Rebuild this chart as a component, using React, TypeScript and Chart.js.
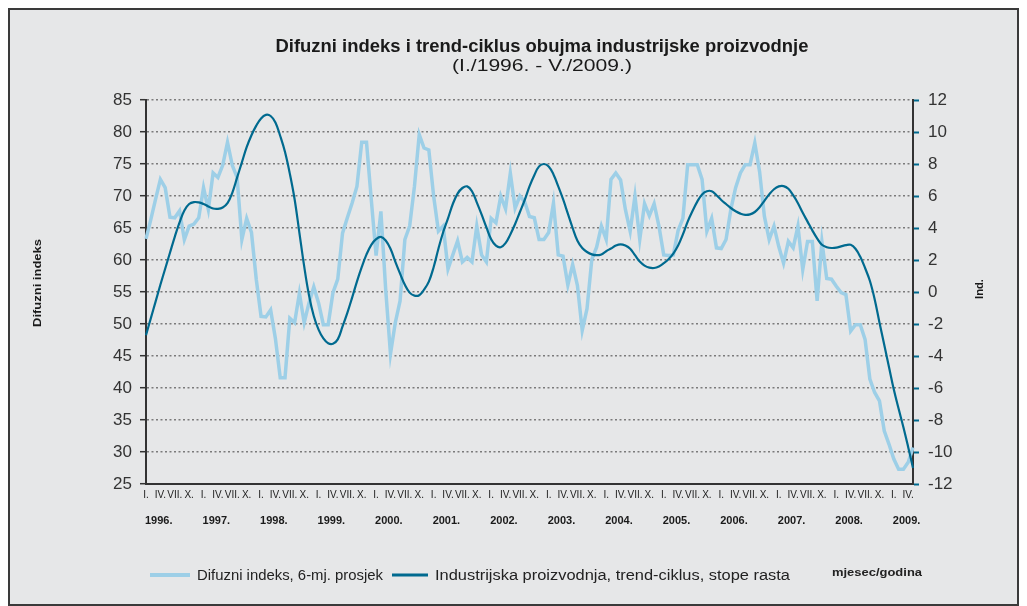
import React, { useEffect, useRef } from "react";
import { Chart, registerables } from "chart.js";

Chart.register(...registerables);

// ---------- data ----------
const years = [1996, 1997, 1998, 1999, 2000, 2001, 2002, 2003, 2004, 2005, 2006, 2007, 2008, 2009];
const romanMonths = ["I.", "II.", "III.", "IV.", "V.", "VI.", "VII.", "VIII.", "IX.", "X.", "XI.", "XII."];
const monthsInLastYear = 5; // I.-V. 2009

// Difuzni indeks, 6-mj. prosjek (left axis)
const diffusionIndex = [
  63.3, 66.3, 69.5, 72.6, 71.3, 66.7, 66.6, 67.7, 63.2, 65.3, 65.6, 66.6,
  71.3, 67.9, 73.6, 72.9, 74.8, 78.4, 74.8, 72.9, 63.2, 66.5, 64.3, 57.0,
  51.2, 51.1, 52.2, 47.7, 41.6, 41.6, 50.9, 50.2, 54.8, 50.2, 53.3, 55.8,
  53.3, 49.9, 49.9, 54.9, 57.0, 64.2, 66.6, 68.9, 71.5, 78.4, 78.4, 69.4,
  60.7, 67.6, 55.4, 45.3, 50.2, 53.6, 63.2, 65.3, 71.5, 79.6, 77.5, 77.2,
  70.0, 64.5, 65.3, 58.6, 60.8, 63.0, 59.7, 60.4, 59.7, 65.3, 60.8, 59.7,
  66.5, 65.8, 70.0, 68.0, 73.6, 68.1, 70.0, 69.1, 66.8, 66.6, 63.2, 63.2,
  64.3, 68.9, 60.8, 60.6, 56.1, 59.3, 56.0, 49.0, 52.4, 60.1, 62.0, 65.3,
  63.2, 72.6, 73.6, 72.5, 67.9, 64.5, 70.0, 63.2, 68.8, 66.9, 68.8, 65.3,
  60.8, 60.7, 60.8, 64.6, 66.5, 74.9, 74.9, 74.9, 72.6, 64.5, 66.5, 61.9,
  61.8, 63.2, 67.9, 71.3, 73.6, 74.9, 74.9, 78.3, 73.8, 66.8, 63.2, 65.3,
  62.1, 59.5, 62.9, 61.9, 65.3, 58.5, 62.9, 62.9, 53.6, 62.9, 57.1, 57.0,
  55.9, 54.9, 54.6, 48.9, 49.9, 49.9, 47.6, 41.4, 39.3, 38.0, 33.3, 31.2,
  28.9, 27.3, 27.3, 28.4, 30.7,
];

// Industrijska proizvodnja, trend-ciklus, stope rasta (right axis)
const industryTrend = [
  -2.7, -1.65, -0.6, 0.45, 1.45, 2.45, 3.45, 4.35, 5.1, 5.5, 5.62, 5.6,
  5.5, 5.35, 5.22, 5.2, 5.28, 5.55, 6.2, 7.15, 8.1, 9.05, 9.8, 10.4,
  10.85, 11.07, 11.0, 10.6, 9.75, 8.75, 7.4, 5.8, 3.7, 1.6, -0.2, -1.5,
  -2.35, -2.9, -3.2, -3.23, -2.96, -2.15, -1.3, -0.35, 0.65, 1.55, 2.35, 2.95,
  3.3, 3.44, 3.22, 2.7, 1.9, 1.15, 0.45, -0.04, -0.23, -0.2, 0.15, 0.65,
  1.55, 2.7, 3.75, 4.6, 5.5, 6.15, 6.5, 6.6, 6.3, 5.6, 4.85, 4.05,
  3.3, 2.9, 2.8, 3.05, 3.6, 4.25, 5.0, 5.75, 6.6, 7.3, 7.85, 8.0,
  7.85, 7.35, 6.6, 5.8, 4.9, 4.0, 3.2, 2.75, 2.5, 2.35, 2.3, 2.35,
  2.55, 2.72, 2.9, 2.98, 2.9, 2.7, 2.3, 1.9, 1.65, 1.52, 1.5, 1.6,
  1.8, 2.05, 2.4, 2.9, 3.6, 4.4, 5.06, 5.65, 6.1, 6.3, 6.3, 6.05,
  5.75, 5.5, 5.25, 5.05, 4.9, 4.82, 4.85, 5.0, 5.3, 5.7, 6.1, 6.42,
  6.6, 6.62, 6.45, 6.05, 5.55, 4.95, 4.4, 3.85, 3.35, 2.95, 2.8, 2.75,
  2.77, 2.85, 2.93, 2.95, 2.7, 2.2, 1.5, 0.7, -0.45, -1.9, -3.3, -4.7,
  -6.1, -7.3, -8.45, -9.7, -11.0,
];

const titleText = "Difuzni indeks i trend-ciklus obujma industrijske proizvodnje";
const subtitleText = "(I./1996. - V./2009.)";
const leftAxisTitle = "Difuzni indeks";
const rightAxisTitle = "Ind.";
const xAxisTitle = "mjesec/godina";
const lightLabel = "Difuzni indeks, 6-mj. prosjek";
const darkLabel = "Industrijska proizvodnja, trend-ciklus, stope rasta";

// categories built from the year / month lists
const categories: string[] = [];
years.forEach((y, yi) => {
  const n = yi === years.length - 1 ? monthsInLastYear : 12;
  for (let m = 0; m < n; m++) categories.push(`${romanMonths[m]}/${y}.`);
});

// ---------- style ----------
const LIGHT = "#9dcfe7";
const DARK = "#006a8f";
const FONT = '"Liberation Sans", Arial, sans-serif';
const NARROW = '"Liberation Sans Narrow", "Liberation Sans", Arial, sans-serif';

function fitText(ctx: CanvasRenderingContext2D, text: string, x: number, y: number, width: number, align: "left" | "center", rot = 0) {
  const w = ctx.measureText(text).width;
  const sx = width / w;
  ctx.save();
  ctx.translate(x, y);
  if (rot) ctx.rotate(rot);
  ctx.scale(sx, 1);
  ctx.textAlign = align;
  ctx.textBaseline = "middle";
  ctx.fillText(text, 0, 0);
  ctx.restore();
}

const decorPlugin = {
  id: "decor",
  afterDraw(chart: any) {
    const ctx: CanvasRenderingContext2D = chart.ctx;
    const xs = chart.scales.x;
    ctx.save();
    ctx.fillStyle = "#1a1a1a";
    // title
    ctx.font = `bold 18px ${NARROW}`;
    fitText(ctx, titleText, 532, 37, 533, "center");
    ctx.font = `16px ${NARROW}`;
    fitText(ctx, subtitleText, 532, 57, 180, "center");
    // axis titles
    ctx.font = `bold 11px ${FONT}`;
    fitText(ctx, leftAxisTitle, 28, 273, 88, "center", -Math.PI / 2);
    fitText(ctx, rightAxisTitle, 970, 279, 20, "center", -Math.PI / 2);
    // year labels
    ctx.font = `bold 11px ${NARROW}`;
    ctx.textAlign = "left";
    ctx.textBaseline = "middle";
    years.forEach((y, yi) => {
      const px = xs.getPixelForValue(yi * 12);
      ctx.fillText(`${y}.`, px - 1, 511);
    });
    // legend
    const ly = 565;
    ctx.lineCap = "butt";
    ctx.strokeStyle = LIGHT;
    ctx.lineWidth = 4;
    ctx.beginPath();
    ctx.moveTo(140, ly);
    ctx.lineTo(180, ly);
    ctx.stroke();
    ctx.strokeStyle = DARK;
    ctx.lineWidth = 3;
    ctx.beginPath();
    ctx.moveTo(382, ly);
    ctx.lineTo(418, ly);
    ctx.stroke();
    ctx.fillStyle = "#222";
    ctx.font = `14px ${FONT}`;
    fitText(ctx, lightLabel, 187, ly + 1, 186, "left");
    fitText(ctx, darkLabel, 425, ly + 1, 355, "left");
    ctx.font = `bold 11px ${NARROW}`;
    fitText(ctx, xAxisTitle, 822, ly - 2, 90, "left");
    ctx.restore();
  },
};

export default function App() {
  const ref = useRef<HTMLCanvasElement | null>(null);
  useEffect(() => {
    if (!ref.current) return;
    const chart = new Chart(ref.current, {
      type: "line",
      data: {
        labels: categories,
        datasets: [
          {
            label: lightLabel,
            data: diffusionIndex,
            yAxisID: "y",
            borderColor: LIGHT,
            backgroundColor: LIGHT,
            borderWidth: 3.5,
            pointRadius: 0,
            tension: 0,
            order: 1,
          },
          {
            label: darkLabel,
            data: industryTrend,
            yAxisID: "y1",
            borderColor: DARK,
            backgroundColor: DARK,
            borderWidth: 2.2,
            pointRadius: 0,
            tension: 0.4,
            order: 0,
          },
        ],
      },
      options: {
        responsive: false,
        animation: false,
        events: [],
        layout: { padding: { top: 90, left: 0, right: 0, bottom: 0 } },
        plugins: {
          legend: { display: false },
          title: { display: false },
          tooltip: { enabled: false },
        },
        scales: {
          x: {
            type: "category",
            offset: false,
            grid: { display: false, drawTicks: false },
            border: { display: true, color: "#333", width: 2 },
            ticks: {
              autoSkip: false,
              maxRotation: 0,
              minRotation: 0,
              padding: 5,
              color: "#222",
              font: { size: 10, family: FONT },
              callback: (_v: any, idx: number) => (idx % 3 === 0 ? romanMonths[idx % 12] : ""),
            },
            afterFit: (s: any) => {
              s.height = 120;
            },
          },
          y: {
            position: "left",
            min: 25,
            max: 85,
            ticks: { stepSize: 5, padding: 8, color: "#333", font: { size: 17, family: FONT } },
            grid: {
              color: "#7b7b7b",
              lineWidth: 1.4,
              drawTicks: true,
              tickLength: 6,
              tickColor: "#333",
              tickWidth: 1.5,
              tickBorderDash: [],
            },
            border: { display: true, color: "#333", width: 2, dash: [2, 2.5] },
            afterFit: (s: any) => {
              s.width = 136;
            },
          },
          y1: {
            position: "right",
            min: -12,
            max: 12,
            ticks: { stepSize: 2, padding: 9, color: "#333", font: { size: 17, family: FONT } },
            grid: {
              drawOnChartArea: false,
              drawTicks: true,
              tickLength: 6,
              tickColor: DARK,
              tickWidth: 2,
              tickBorderDash: [],
            },
            border: { display: true, color: "#333", width: 2 },
            afterFit: (s: any) => {
              s.width = 104;
            },
          },
        },
      } as any,
      plugins: [decorPlugin],
    });
    return () => chart.destroy();
  }, []);

  return (
    <div
      style={{
        width: 1011,
        height: 598,
        boxSizing: "border-box",
        border: "2px solid #3a3a3a",
        background: "#e6e7e8",
      }}
    >
      <canvas ref={ref} width={1007} height={594} style={{ display: "block" }} />
    </div>
  );
}
